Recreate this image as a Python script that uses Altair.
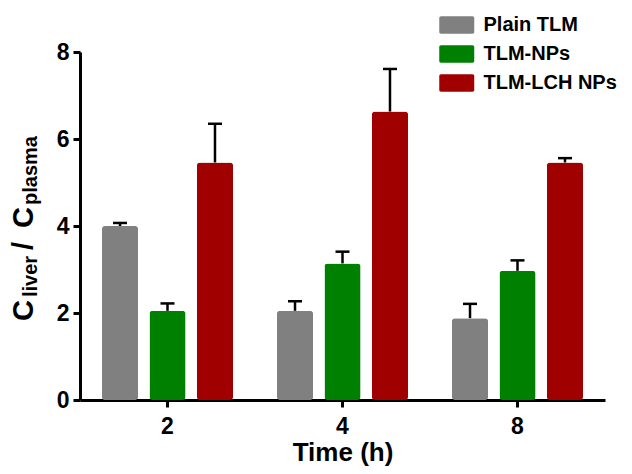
import altair as alt
import pandas as pd

times = ["2", "4", "8"]
groups = ["Plain TLM", "TLM-NPs", "TLM-LCH NPs"]
colors = ["#808080", "#008000", "#a00000"]

plain_mean = [4.0, 2.05, 1.88]
plain_sd = [0.07, 0.22, 0.33]
np_mean = [2.05, 3.14, 2.97]
np_sd = [0.17, 0.27, 0.24]
lch_mean = [5.46, 6.63, 5.46]
lch_sd = [0.89, 0.98, 0.10]

rows = []
for g, means, sds in zip(groups, [plain_mean, np_mean, lch_mean], [plain_sd, np_sd, lch_sd]):
    for t, m, s in zip(times, means, sds):
        rows.append({"time": t, "group": g, "mean": m, "upper": m + s})
df = pd.DataFrame(rows)

FONT = "Liberation Sans"

x_enc = alt.X("time:N", sort=times,
              scale=alt.Scale(paddingInner=0.186, paddingOuter=0.093),
              axis=alt.Axis(title="Time (h)", labelAngle=0))
xo_enc = alt.XOffset("group:N", sort=groups,
                     scale=alt.Scale(paddingInner=0.24, paddingOuter=0.12))

legend_path = ("M-1.8,-1 h3.6 a0.2,0.2 0 0 1 0.2,0.2 v1.6 a0.2,0.2 0 0 1 -0.2,0.2 "
               "h-3.6 a0.2,0.2 0 0 1 -0.2,-0.2 v-1.6 a0.2,0.2 0 0 1 0.2,-0.2 z")

bars = alt.Chart(df).mark_bar(cornerRadius=3).encode(
    x=x_enc,
    xOffset=xo_enc,
    y=alt.Y("mean:Q", scale=alt.Scale(domain=[0, 8], nice=False),
            axis=alt.Axis(title=None, values=[0, 2, 4, 6, 8])),
    color=alt.Color("group:N", sort=groups,
                    scale=alt.Scale(domain=groups, range=colors),
                    legend=alt.Legend(title=None, orient="none", legendX=366.75, legendY=-37,
                                      symbolType=legend_path, symbolSize=306,
                                      symbolStrokeWidth=0, symbolOpacity=1,
                                      labelFont=FONT, labelFontSize=20, labelFontWeight="bold",
                                      labelColor="black", labelOffset=16.75, rowPadding=9,
                                      padding=0)),
)

err = alt.Chart(df).mark_rule(color="black", strokeWidth=2.5).encode(
    x=x_enc, xOffset=xo_enc, y="mean:Q", y2="upper:Q"
)
caps = alt.Chart(df).mark_tick(color="black", size=14, thickness=2.5, opacity=1).encode(
    x=x_enc, xOffset=xo_enc, y="upper:Q"
)

one = alt.Data(values=[{"k": 0}])
def piece(txt, x, y, size):
    return alt.Chart(one).mark_text(
        text=txt, angle=270, align="left", baseline="alphabetic",
        font=FONT, fontWeight="bold", fontSize=size, color="black"
    ).encode(x=alt.value(x), y=alt.value(y))

title_layers = [
    piece("C", -47, 269, 29),
    piece("liver", -43, 245, 20),
    piece("/", -47, 198, 29),
    piece("C", -47, 176, 29),
    piece("plasma", -43, 153, 20),
]

chart = alt.layer(err, caps, bars, *title_layers).properties(
    width=525, height=348,
    autosize=alt.AutoSizeParams(type="none"),
    padding={"left": 72, "top": 44, "right": 19, "bottom": 66},
).configure_view(stroke=None).configure_axis(
    domainColor="black", domainWidth=3, tickColor="black", tickWidth=3, tickSize=7,
    labelFont=FONT, labelFontSize=23, labelFontWeight="bold", labelColor="black",
    titleFont=FONT, titleFontSize=26, titleFontWeight="bold", titleColor="black",
    grid=False,
).configure_axisY(labelPadding=4).configure_axisX(labelPadding=8, titlePadding=1)

chart.save("out.html", embed_options={"renderer": "svg", "actions": False})
